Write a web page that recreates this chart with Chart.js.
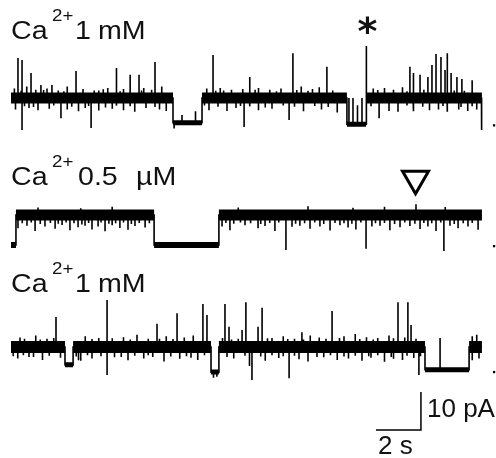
<!DOCTYPE html>
<html>
<head>
<meta charset="utf-8">
<script src="https://cdn.jsdelivr.net/npm/chart.js@4.4.0/dist/chart.umd.min.js"></script>
<style>
  html, body { margin: 0; padding: 0; background: #fff; }
</style>
</head>
<body>
<canvas id="trazos" width="496" height="458"></canvas>
<script>
const ctx = document.getElementById('trazos');

// tiempo en s, corriente en pA (0 = nivel abierto de cada trazo)
const traza1Cambios = [0, 7.2, 8.49, 14.93, 15.78, 20.93];
const traza1Niveles = [0, -6.5, 0, -6.9, 0];
const traza1PicosT = [0.31, 0.49, 0.89, 1.33, 1.82, 2.89, 4.67, 5.29, 5.69, 6.4, 8.98, 10.62, 12.53, 14.04, 15.8,
  17.73, 17.87, 18.18, 18.53, 18.71, 18.89, 19.11, 19.29, 19.38, 19.56, 19.82, 20.04, 20.49,
  0.49, 2.22, 3.56, 10.36, 12.36, 16.36, 20.91,
  15.02, 15.2, 15.4, 15.6, 7.6, 8.2, 7.25,
  0.15, 0.7, 1.1, 1.6, 2.1, 2.5, 3.2, 3.9, 4.3, 5.0, 5.9, 6.7, 8.7, 9.3, 9.8, 10.3, 11.0, 11.5, 12.0, 12.9, 13.4, 13.7, 16.1, 16.6, 17.0, 17.4,
  0.2, 0.8, 1.2, 1.7, 2.5, 3.0, 3.3, 3.9, 4.5, 5.0, 5.5, 6.0, 6.6, 6.9, 8.8, 9.6, 10.0, 11.0, 11.6, 13.0, 13.8, 14.5, 16.8, 17.2, 17.9, 18.6, 19.0, 19.4, 19.9, 20.3, 20.7,
  0.45, 1.45, 2.35, 3.7, 4.1, 4.85, 5.8, 6.25, 9.1, 9.45, 10.85, 11.8, 12.7, 13.2, 14.3, 16.3, 17.6, 18.35, 19.7, 20.15,
  0.6, 1.0, 1.9, 2.7, 3.45, 4.2, 4.7, 5.3, 6.4, 8.6, 9.2, 10.2, 10.6, 11.3, 12.1, 12.6, 13.5, 14.1, 16.0, 17.6, 18.3, 19.2, 20.0, 20.5];
const traza1PicosA = [10.5, 10.0, 6.6, 3.4, 3.4, 7.1, 7.9, 6.1, 6.1, 9.5, 11.3, 5.5, 11.8, 8.2, 13.7,
  8.2, 6.6, 6.1, 5.5, 8.7, 11.6, 10.8, 7.4, 11.8, 6.6, 5.5, 5.0, 4.7,
  -8.4, -5.3, -7.9, -7.6, -5.8, -5.3, -8.4,
  6.9, 6.9, 5.0, 6.9, 2.0, 3.0, -1.5,
  2.5, 3.0, 2.2, 2.5, 2.0, 3.0, 2.4, 2.0, 2.6, 2.4, 2.6, 3.0, 2.5, 2.6, 2.2, 2.4, 2.6, 2.2, 2.5, 3.0, 2.4, 2.8, 2.5, 2.6, 2.2, 2.8,
  -3.0, -2.6, -3.2, -2.8, -3.0, -3.5, -2.6, -3.3, -2.8, -3.2, -3.6, -2.6, -3.0, -3.4, -3.2, -3.4, -2.6, -3.2, -2.8, -3.5, -3.0, -3.8, -3.4, -3.6, -3.5, -3.2, -3.0, -3.6, -3.0, -3.4, -3.0,
  1.9, 2.1, 1.8, 2.0, 2.3, 1.8, 2.0, 2.2, 1.9, 2.0, 2.2, 1.8, 2.1, 1.9, 2.0, 2.1, 1.8, 2.2, 2.0, 1.9,
  -2.2, -2.4, -2.0, -2.3, -2.1, -2.5, -2.0, -2.2, -2.4, -2.0, -2.3, -2.1, -2.2, -2.5, -2.0, -2.3, -2.1, -2.4, -2.2, -2.0, -2.3, -2.1, -2.4, -2.2];

const traza2Cambios = [0, 0.22, 6.36, 9.24, 20.93];
const traza2Niveles = [-7.9, 0, -7.9, 0];
const traza2PicosT = [12.22, 15.78, 19.24,
  0.31, 0.71, 1.07, 1.51, 1.96, 2.27, 2.62, 2.98, 3.29, 3.6, 3.87, 4.18, 4.49, 4.84, 5.2, 5.51, 5.96,
  9.38, 9.73, 10.4, 10.98, 11.29, 11.73, 12.49, 12.84, 13.29, 13.73, 14.18, 14.62, 14.98, 15.33, 16.04, 16.4, 16.84,
  17.29, 17.73, 18.18, 18.53, 18.89, 19.51, 19.87, 20.31, 20.76,
  0.5, 0.9, 1.3, 1.75, 2.1, 2.45, 2.8, 3.15, 3.45, 4.0, 4.35, 4.65, 5.0, 5.35, 5.7, 6.15,
  9.55, 9.9, 10.2, 10.65, 11.1, 11.5, 11.9, 12.65, 13.05, 13.5, 13.9, 14.4, 14.8, 15.15, 15.55, 16.2, 16.6, 17.05,
  17.5, 17.95, 18.35, 18.7, 19.1, 19.7, 20.1, 20.5,
  1.2, 3.1, 4.5, 10.1, 13.2, 15.2, 16.6, 18.0, 19.3];
const traza2PicosA = [-9.2, -8.9, -9.5,
  -3.5, -2.8, -4.2, -3.0, -3.6, -2.6, -4.0, -3.2, -2.8, -3.8, -3.0, -4.3, -2.7, -3.4, -3.9, -2.9, -3.3,
  -3.0, -4.0, -2.7, -3.5, -2.9, -4.2, -3.1, -2.8, -3.6, -3.0, -4.1, -2.7, -3.3, -3.8, -3.0, -2.8, -4.0,
  -3.2, -2.9, -3.7, -3.0, -4.2, -2.8, -3.5, -3.0, -3.9,
  -2.2, -2.0, -2.4, -2.1, -2.3, -2.0, -2.2, -2.5, -2.1, -2.0, -2.3, -2.2, -2.0, -2.4, -2.1, -2.2,
  -2.1, -2.3, -2.0, -2.2, -2.4, -2.1, -2.0, -2.3, -2.2, -2.0, -2.4, -2.1, -2.2, -2.3, -2.0, -2.2, -2.1, -2.4,
  -2.0, -2.3, -2.1, -2.2, -2.0, -2.4, -2.2, -2.1,
  2.0, 1.8, 2.2, 2.0, 2.3, 1.9, 2.2, 2.8, 2.1];

const traza3Cambios = [0, 2.4, 2.76, 8.89, 9.24, 18.4, 20.36, 20.93];
const traza3Niveles = [0, -4.7, 0, -6.6, 0, -6.0, 0];
const traza3PicosT = [2.0, 4.27, 6.49, 7.38, 8.53, 8.71, 9.51, 9.69, 10.27, 10.44, 10.98, 11.16, 12.93, 14.27, 17.2, 17.64, 17.78, 19.07,
  4.27, 10.71, 10.6, 12.36, 18.13, 3.0, 9.0, 9.15,
  0.4, 1.1, 1.6, 3.3, 3.9, 5.0, 5.6, 6.1, 6.9, 7.7, 8.1, 11.6, 12.1, 12.6, 13.3, 13.7, 14.8, 15.3, 15.8, 16.3, 16.8, 17.5, 20.5, 20.7,
  0.3, 0.8, 1.4, 2.2, 3.1, 3.6, 4.6, 5.2, 5.9, 6.3, 6.8, 7.5, 8.0, 8.3, 9.9, 11.3, 11.9, 12.8, 13.2, 13.9, 14.5, 15.0, 15.6, 16.0, 16.6, 17.0, 17.4, 17.9, 20.5, 20.8,
  0.6, 1.3, 1.9, 3.6, 4.5, 5.3, 6.6, 7.2, 9.4, 9.8, 10.1, 11.4, 12.3, 13.0, 14.0, 14.6, 15.5, 16.1, 17.0, 18.0,
  0.1, 0.55, 1.0, 1.7, 2.9, 3.4, 4.0, 4.9, 5.5, 6.1, 7.1, 7.8, 8.6, 9.6, 10.4, 11.1, 11.6, 12.1, 12.6, 13.6, 14.2, 14.8, 15.3, 15.9, 16.3, 16.9, 17.6, 18.2];
const traza3PicosA = [7.9, 12.4, 6.1, 8.9, 11.3, 8.4, 11.3, 5.3, 4.5, 11.8, 5.3, 10.3, 3.9, 9.5, 11.8, 11.8, 5.8, 8.4,
  -7.4, -8.7, -5.0, -8.2, -7.4, -3.5, -1.5, -1.2,
  2.5, 3.0, 2.2, 2.8, 2.4, 2.6, 3.2, 2.2, 2.8, 2.5, 3.0, 2.4, 2.8, 2.2, 3.0, 2.5, 2.8, 3.4, 2.6, 2.4, 3.0, 2.5, 2.8, 3.2,
  -3.0, -2.6, -3.4, -2.8, -3.6, -3.0, -2.7, -3.5, -3.0, -2.6, -3.8, -3.1, -2.8, -3.4, -3.0, -3.6, -2.9, -3.2, -3.8, -2.7, -3.4, -3.0, -3.6, -2.8, -3.9, -3.1, -3.4, -2.9, -3.5, -3.0,
  2.2, 2.0, 2.4, 2.1, 2.3, 2.0, 2.2, 2.1, 2.4, 2.0, 2.2, 2.3, 2.1, 2.0, 2.2, 2.4, 2.1, 2.0, 2.3, 2.2,
  -2.4, -2.2, -2.6, -2.3, -2.5, -2.2, -2.4, -2.6, -2.3, -2.2, -2.5, -2.4, -2.2, -2.6, -2.3, -2.5, -2.2, -2.4, -2.3, -2.6, -2.2, -2.5, -2.3, -2.4, -2.2, -2.6, -2.3, -2.4];

// corriente cero (punto al final de cada trazo)
const corrienteCero = [-7.2, -8.2, -6.6];
const tiempoCero = 21.47;

// escala: 2 s y 10 pA
const escalaSeg = 2;
const escalaPA = 10;

const etiquetaIon = ['Ca', 'Ca', 'Ca'];
const etiquetaCarga = ['2+', '2+', '2+'];
const etiquetaNum = ['1', '0.5', '1'];
const etiquetaUnidad = ['mM', '\u00b5M', 'mM'];

// posicion vertical de cada trazo en el grafico (pA)
const desplazamiento = [94.74, 63.95, 29.21];
const anchoAbierto = [11, 11, 12];
const anchoCerrado = [5, 6, 5];

function nivelEn(cambios, niveles, t) {
  for (let i = 0; i < niveles.length; i++) {
    if (t < cambios[i + 1]) return niveles[i];
  }
  return niveles[niveles.length - 1];
}

function lineaFina(cambios, niveles, picosT, picosA, d) {
  const eventos = [];
  for (let i = 1; i < cambios.length - 1; i++) {
    eventos.push({ t: cambios[i], paso: true, de: niveles[i - 1], a: niveles[i] });
  }
  picosT.forEach((t, i) => eventos.push({ t: t, paso: false, amp: picosA[i] }));
  eventos.sort((a, b) => a.t - b.t);
  const pts = [{ x: cambios[0], y: niveles[0] + d }];
  eventos.forEach(e => {
    if (e.paso) {
      pts.push({ x: e.t, y: e.de + d }, { x: e.t, y: e.a + d });
    } else {
      const n = nivelEn(cambios, niveles, e.t);
      pts.push({ x: e.t, y: n + d }, { x: e.t, y: n + e.amp + d }, { x: e.t, y: n + d });
    }
  });
  pts.push({ x: cambios[cambios.length - 1], y: niveles[niveles.length - 1] + d });
  return pts;
}

function banda(cambios, niveles, d, abierto) {
  const pts = [];
  niveles.forEach((n, i) => {
    if ((n === 0) !== abierto) return;
    pts.push({ x: cambios[i], y: n + d }, { x: cambios[i + 1], y: n + d }, { x: cambios[i + 1], y: null });
  });
  return pts;
}

const trazas = [
  [traza1Cambios, traza1Niveles, traza1PicosT, traza1PicosA],
  [traza2Cambios, traza2Niveles, traza2PicosT, traza2PicosA],
  [traza3Cambios, traza3Niveles, traza3PicosT, traza3PicosA]
];

const datasets = [];
trazas.forEach((tr, k) => {
  const d = desplazamiento[k];
  datasets.push({ data: banda(tr[0], tr[1], d, true), borderWidth: anchoAbierto[k], borderColor: '#000', pointRadius: 0, borderCapStyle: 'butt' });
  datasets.push({ data: banda(tr[0], tr[1], d, false), borderWidth: anchoCerrado[k], borderColor: '#000', pointRadius: 0, borderCapStyle: 'butt' });
  datasets.push({ data: lineaFina(tr[0], tr[1], tr[2], tr[3], d), borderWidth: 1.6, borderColor: '#000', pointRadius: 0 });
  datasets.push({ data: [{ x: tiempoCero, y: corrienteCero[k] + d }], showLine: false, pointStyle: 'rect', pointRadius: 1.6, backgroundColor: '#000', borderWidth: 0 });
});

// barra de escala
const esquina = { x: 18.22, y: 7.37 };
datasets.push({
  data: [{ x: esquina.x - escalaSeg, y: esquina.y }, { x: esquina.x, y: esquina.y }, { x: esquina.x, y: esquina.y + escalaPA }],
  borderWidth: 1.5, borderColor: '#000', pointRadius: 0
});

// triangulo sobre el trazo 2
datasets.push({
  data: [{ x: 17.98, y: desplazamiento[1] + 9.54 }],
  showLine: false, pointStyle: 'triangle', rotation: 180, pointRadius: 15, borderWidth: 3,
  borderColor: '#000', backgroundColor: '#fff'
});

const textos = {
  id: 'textos',
  afterDatasetsDraw(chart) {
    const c = chart.ctx;
    const base = [39, 185, 292];
    const xNum = [75, 78, 75];
    const xUni = [98, 136, 98];
    function escribir(txt, x, y, px, sx) {
      c.save();
      c.translate(x, y);
      c.scale(sx, 1);
      c.font = px + 'px "Liberation Sans", Arial, sans-serif';
      c.fillText(txt, 0, 0);
      c.restore();
    }
    c.save();
    c.fillStyle = '#111';
    c.textBaseline = 'alphabetic';
    for (let k = 0; k < 3; k++) {
      escribir(etiquetaIon[k], 11, base[k], 26, 1.1);
      escribir(etiquetaCarga[k], 52, base[k] - 18, 17, 1.1);
      escribir(etiquetaNum[k], xNum[k], base[k], 26, 1.1);
      escribir(etiquetaUnidad[k], xUni[k], base[k], 26, 1.1);
    }
    escribir(escalaPA + ' pA', 427, 417, 26, 1);
    escribir(escalaSeg + ' s', 378, 454, 26, 1);

    // asterisco sobre el pico grande del trazo 1
    const xa = chart.scales.x.getPixelForValue(15.84);
    c.font = 'bold 38px "DejaVu Sans", sans-serif';
    c.textAlign = 'center';
    const m = c.measureText('*');
    const alto = m.actualBoundingBoxAscent + m.actualBoundingBoxDescent;
    c.fillText('*', xa, 25 - alto / 2 + m.actualBoundingBoxAscent);
    c.restore();
  }
};

const myChart = new Chart(ctx, {
  type: 'line',
  data: { datasets: datasets },
  options: {
    responsive: false,
    animation: false,
    events: [],
    spanGaps: false,
    elements: { line: { tension: 0 } },
    layout: { padding: 0, autoPadding: false },
    plugins: { legend: { display: false }, tooltip: { enabled: false } },
    scales: {
      x: { type: 'linear', min: -0.489, max: 21.556, display: false, offset: false },
      y: { type: 'linear', min: 0, max: 120.53, display: false }
    }
  },
  plugins: [textos]
});
</script>
</body>
</html>
